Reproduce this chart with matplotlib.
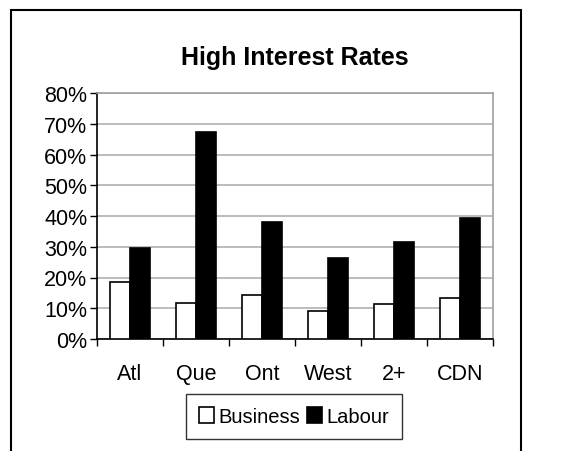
import matplotlib.pyplot as plt
import numpy as np
from matplotlib.patches import Rectangle
from matplotlib.ticker import FixedLocator, PercentFormatter

plt.rcParams['font.family'] = ['Liberation Sans', 'DejaVu Sans']

# Values
regions = ["Atl", "Que", "Ont", "West", "2+", "CDN"]
business = [18.4, 11.7, 14.4, 9.2, 11.3, 13.2]
labour = [29.6, 67.3, 37.9, 26.3, 31.5, 39.3]

fig = plt.figure(figsize=(5.74, 4.52), dpi=100)
W, H = 574, 452
ax = fig.add_axes([97 / W, 1 - 340 / H, (493 - 97) / W, (340 - 94) / H])

x = np.arange(len(regions))
w = 0.3
ax.bar(x - w / 2, business, w, color="white", edgecolor="black", linewidth=1.2, label="Business", zorder=3)
ax.bar(x + w / 2, labour, w, color="black", edgecolor="black", linewidth=1.2, label="Labour", zorder=3)

ax.set_xlim(-0.5, len(regions) - 0.5)
ax.set_ylim(0, 80)
ax.set_yticks(np.arange(0, 81, 10))
ax.yaxis.set_major_formatter(PercentFormatter(decimals=0))
ax.grid(axis="y", color="#b0b0b0", linewidth=1.2, zorder=0)

ax.set_xticks(x)
ax.set_xticklabels(regions)
ax.xaxis.set_minor_locator(FixedLocator(np.arange(-0.5, len(regions), 1)))
ax.tick_params(axis="x", which="major", length=0, pad=17, labelsize=15.5)
ax.tick_params(axis="x", which="minor", length=5, width=1, color="black")
ax.tick_params(axis="y", length=5, width=1, pad=2, labelsize=15.5)

for s in ["top", "right"]:
    ax.spines[s].set_color("#a0a0a0")
    ax.spines[s].set_linewidth(1.2)
for s in ["left", "bottom"]:
    ax.spines[s].set_color("black")
    ax.spines[s].set_linewidth(1.2)

ax.set_title("High Interest Rates", fontsize=18, fontweight="bold", pad=21)

leg = ax.legend(loc="upper center", bbox_to_anchor=(294 / W, 1 - 395 / H), bbox_transform=fig.transFigure,
                ncol=2, frameon=True, fancybox=False, edgecolor="black", fontsize=14.5,
                handlelength=0.75, handleheight=0.85, handletextpad=0.2, columnspacing=0.35,
                borderpad=0.65, borderaxespad=0)
leg.get_frame().set_linewidth(1.0)

fig.patches.append(Rectangle((11 / W, -0.05), (521 - 11) / W, 1.05 - 11 / H,
                             transform=fig.transFigure, fill=False, edgecolor="black", linewidth=1.5))

fig.savefig("out.png", dpi=100)
